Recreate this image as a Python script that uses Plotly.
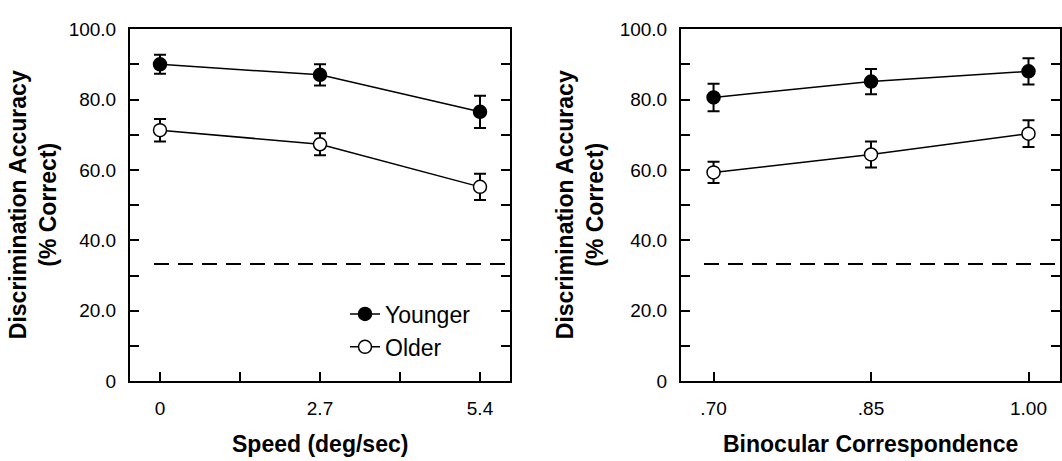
import plotly.graph_objects as go

# ---- data ----
speed = [0, 2.7, 5.4]
younger_speed = [90.0, 87.0, 76.5]
younger_speed_err = [2.7, 3.0, 4.6]
older_speed = [71.3, 67.3, 55.2]
older_speed_err = [3.2, 3.1, 3.7]

corr = [0.70, 0.85, 1.00]
younger_corr = [80.6, 85.1, 88.0]
younger_corr_err = [3.9, 3.6, 3.7]
older_corr = [59.3, 64.4, 70.3]
older_corr_err = [3.0, 3.7, 3.8]

chance = 100 / 3

y_tickvals = [0, 10, 20, 30, 40, 50, 60, 70, 80, 90, 100]
y_ticktext = ["0", "", "20.0", "", "40.0", "", "60.0", "", "80.0", "", "100.0"]
speed_tickvals = [0, 1.35, 2.7, 4.05, 5.4]
speed_ticktext = ["0", "", "2.7", "", "5.4"]
corr_tickvals = [0.70, 0.85, 1.00]
corr_ticktext = [".70", ".85", "1.00"]

series_names = ["Younger", "Older"]

W, H = 1062, 461
FONT = "Liberation Sans, Arial, Helvetica, sans-serif"

fig = go.Figure()


def add_series(x, y, err, name, fill, xa, ya, show):
    fig.add_trace(go.Scatter(
        x=x, y=y, name=name, mode="lines+markers",
        xaxis=xa, yaxis=ya, showlegend=show,
        line=dict(color="black", width=1.5),
        marker=dict(size=13, color=fill, line=dict(color="black", width=1.5)),
        error_y=dict(type="data", array=err, visible=True,
                     color="black", thickness=2, width=6),
    ))


add_series(speed, younger_speed, younger_speed_err, series_names[0], "black", "x", "y", True)
add_series(speed, older_speed, older_speed_err, series_names[1], "white", "x", "y", True)
add_series(corr, younger_corr, younger_corr_err, series_names[0], "black", "x2", "y2", False)
add_series(corr, older_corr, older_corr_err, series_names[1], "white", "x2", "y2", False)

# domains from pixel geometry
xd1 = [130 / W, 510 / W]
xd2 = [681 / W, 1060 / W]
yd = [1 - 389 / H, 1 - 20 / H]

axis_common = dict(
    showgrid=False, zeroline=False, showline=True, linecolor="black", linewidth=2,
    ticks="inside", ticklen=9, tickwidth=1.5, tickcolor="black",
    tickfont=dict(family=FONT, size=19, color="black"),
)

fig.update_layout(
    width=W, height=H,
    margin=dict(l=0, r=0, t=0, b=0),
    paper_bgcolor="white", plot_bgcolor="white",
    font=dict(family=FONT, color="black"),
    xaxis=dict(domain=xd1, range=[-0.506, 5.906], tickmode="array",
               tickvals=speed_tickvals, ticktext=speed_ticktext,
               mirror=True, anchor="y", ticklabelstandoff=9, **axis_common),
    yaxis=dict(domain=yd, range=[0, 100], tickmode="array",
               tickvals=y_tickvals, ticktext=y_ticktext,
               mirror="allticks", anchor="x", ticklabelstandoff=8, **axis_common),
    xaxis2=dict(domain=xd2, range=[0.669, 1.030], tickmode="array",
                tickvals=corr_tickvals, ticktext=corr_ticktext,
                mirror=True, anchor="y2", ticklabelstandoff=9, **axis_common),
    yaxis2=dict(domain=yd, range=[0, 100], tickmode="array",
                tickvals=y_tickvals, ticktext=y_ticktext,
                mirror="allticks", anchor="x2", ticklabelstandoff=8, **axis_common),
    legend=dict(x=345 / W, y=1 - 296 / H, xanchor="left", yanchor="top",
                bgcolor="rgba(0,0,0,0)", borderwidth=0,
                font=dict(family=FONT, size=23, color="black"),
                tracegroupgap=0),
    showlegend=True,
)

# chance-level dashed lines
for xr, yr, x0 in [("x domain", "y", 24 / 380), ("x2 domain", "y2", 23 / 379)]:
    fig.add_shape(type="line", xref=xr, yref=yr, x0=x0, x1=1, y0=chance, y1=chance,
                  line=dict(color="black", width=2, dash="15px,9px"), layer="below")

# axis titles
title_font = dict(family=FONT, size=23, color="black")
yc = 1 - ((20 + 389) / 2) / H
fig.add_annotation(text="<b>Discrimination Accuracy</b><br><b>(% Correct)</b>",
                   xref="paper", yref="paper", x=33 / W, y=yc, xanchor="center", yanchor="middle",
                   textangle=-90, showarrow=False, font=title_font)
fig.add_annotation(text="<b>Discrimination Accuracy</b><br><b>(% Correct)</b>",
                   xref="paper", yref="paper", x=580 / W, y=yc, xanchor="center", yanchor="middle",
                   textangle=-90, showarrow=False, font=title_font)
fig.add_annotation(text="<b>Speed (deg/sec)</b>", xref="paper", yref="paper",
                   x=320 / W, y=1 - 455 / H, xanchor="center", yanchor="middle",
                   showarrow=False, font=title_font)
fig.add_annotation(text="<b>Binocular Correspondence</b>", xref="paper", yref="paper",
                   x=870 / W, y=1 - 455 / H, xanchor="center", yanchor="middle",
                   showarrow=False, font=title_font)

fig.write_html("out.html")
